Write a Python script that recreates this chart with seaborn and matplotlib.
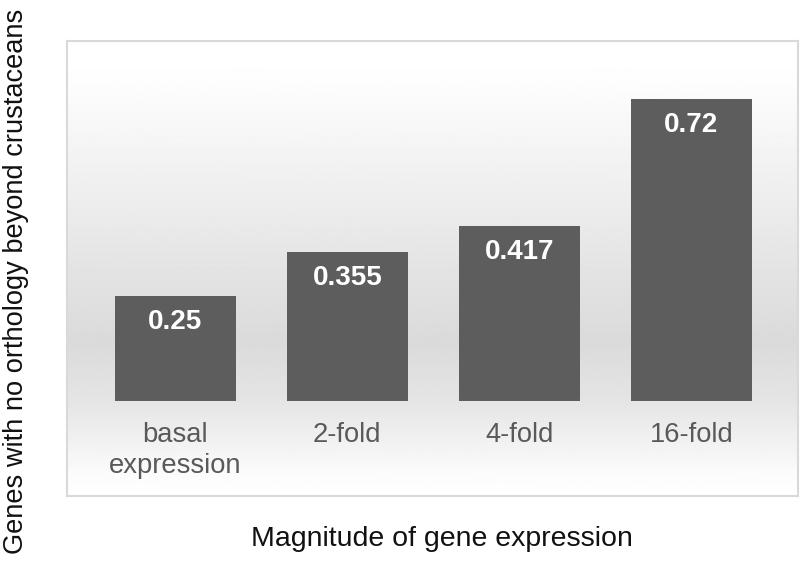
import numpy as np
import pandas as pd
import matplotlib
matplotlib.use("Agg")
import matplotlib.pyplot as plt
import seaborn as sns

categories = ["basal\nexpression", "2-fold", "4-fold", "16-fold"]
values = [0.25, 0.355, 0.417, 0.72]
value_labels = ["0.25", "0.355", "0.417", "0.72"]

sns.set_style("white")
plt.rcParams['font.family'] = ['Liberation Sans', 'DejaVu Sans']

W, H = 800, 566
fig = plt.figure(figsize=(W / 100, H / 100), dpi=100)
fig.patch.set_facecolor("white")

# panel (background gradient + border)
pl, pr, pt, pb = 67, 798, 41, 496
bg = fig.add_axes([pl / W, 1 - pb / H, (pr - pl) / W, (pb - pt) / H])
ys = np.linspace(0, 1, 400)
shade = np.interp(ys, [0.0, 0.08, 0.66, 0.80, 0.95, 1.0],
                  [1.0, 0.995, 0.855, 0.90, 0.985, 1.0])
img = np.repeat(shade[:, None], 2, axis=1)
bg.imshow(img, cmap="gray", vmin=0, vmax=1, aspect="auto", extent=[0, 1, 1, 0])
bg.set_xticks([]); bg.set_yticks([])
for s in bg.spines.values():
    s.set_color("#d9d9d9")
    s.set_linewidth(1.5)

# main axes
base = 401
scale = 420.0
ax = fig.add_axes([pl / W, 1 - base / H, (pr - pl) / W, (base - pt) / H])
ax.patch.set_alpha(0)
df = pd.DataFrame({"cat": categories, "val": values})
sns.barplot(data=df, x="cat", y="val", color="#5d5d5d", saturation=1,
            width=0.70, ax=ax)
ax.set_xlim(-0.63, 3.62)
ax.set_ylim(0, (base - pt) / scale)
for p in ax.patches:
    p.set_edgecolor("none")
for s in ax.spines.values():
    s.set_visible(False)
ax.set_yticks([])
ax.set_xlabel(""); ax.set_ylabel("")
ax.tick_params(axis="x", length=0, pad=15, labelsize=19.7, labelcolor="#595959")
for lbl in ax.get_xticklabels():
    lbl.set_linespacing(1.25)

for i, (v, t) in enumerate(zip(values, value_labels)):
    ax.annotate(t, xy=(i, v), xytext=(0, -19), textcoords="offset points",
                ha="center", va="center", color="white", fontsize=20,
                fontweight="bold")

fig.text(442 / W, 1 - 539 / H, "Magnitude of gene expression", ha="center",
         va="center", fontsize=20.5, color="#111111")
fig.text(16 / W, 1 - 281 / H, "Genes with no orthology beyond crustaceans",
         ha="center", va="center", rotation=90, fontsize=19.6, color="#111111")

fig.savefig("out.png", dpi=100)
